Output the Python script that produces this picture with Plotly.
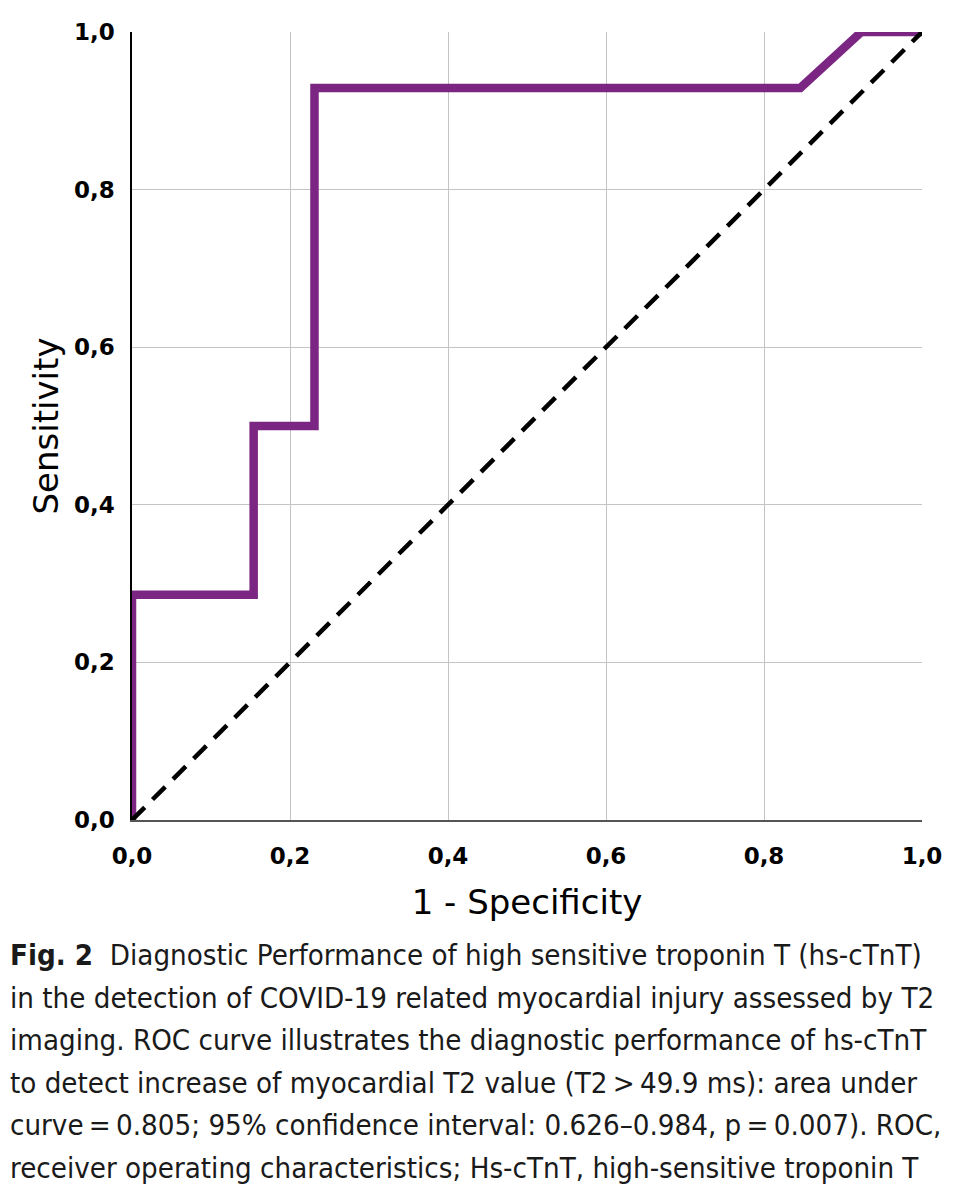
import plotly.graph_objects as go

# ROC data
fpr = [0.0, 0.0, 0.154, 0.154, 0.231, 0.231, 0.846, 0.923, 1.0]
tpr = [0.0, 0.286, 0.286, 0.5, 0.5, 0.929, 0.929, 1.0, 1.0]
ref_x = [0.0, 1.0]
ref_y = [0.0, 1.0]
tick_vals = [0.0, 0.2, 0.4, 0.6, 0.8, 1.0]
tick_text = ["0,0", "0,2", "0,4", "0,6", "0,8", "1,0"]
x_title = "1 - Specificity"
y_title = "Sensitivity"
caption_lines = [
    "<b>Fig. 2</b>&nbsp; Diagnostic Performance of high sensitive troponin T (hs-cTnT)",
    "in the detection of COVID-19 related myocardial injury assessed by T2",
    "imaging. ROC curve illustrates the diagnostic performance of hs-cTnT",
    "to detect increase of myocardial T2 value (T2\u2009>\u200949.9 ms): area under",
    "curve\u2009=\u20090.805; 95% confidence interval: 0.626–0.984, p\u2009=\u20090.007). ROC,",
    "receiver operating characteristics; Hs-cTnT, high-sensitive troponin T",
]

# page body has an 8px margin, so figure coords = screen coords - 8
OFF = 8
W, H = 952, 1184
L, T = 132 - OFF, 32 - OFF
R = W - (922 - OFF)
B = H - (820 - OFF)
plot_w = W - L - R
plot_h = H - T - B

fig = go.Figure()
fig.add_trace(go.Scatter(x=fpr, y=tpr, mode="lines",
                         line=dict(color="#7B2682", width=8.5),
                         hoverinfo="skip", cliponaxis=False))
fig.add_trace(go.Scatter(x=ref_x, y=ref_y, mode="lines",
                         line=dict(color="black", width=4.5, dash="18px,11px"),
                         hoverinfo="skip", cliponaxis=False))

cap_font = dict(family="DejaVu Sans Condensed, Liberation Sans Narrow, Noto Sans", size=29.2, color="#1a1a1a")
first_y = 955 - OFF
spacing = 42.5
annotations = []
for i, line in enumerate(caption_lines):
    py = first_y + i * spacing
    annotations.append(dict(
        text=line, xref="paper", yref="paper",
        x=(8 - OFF - L) / plot_w, y=(H - B - py) / plot_h,
        xanchor="left", yanchor="middle", showarrow=False,
        font=cap_font, align="left"))

tick_font = dict(family="DejaVu Sans", size=23, color="black", weight="bold")
title_font = dict(family="DejaVu Sans", size=34, color="black")

fig.update_layout(
    width=W, height=H,
    margin=dict(l=L, r=R, t=T, b=B),
    paper_bgcolor="white", plot_bgcolor="white",
    showlegend=False,
    annotations=annotations,
)
fig.update_xaxes(
    range=[0, 1], tickvals=tick_vals, ticktext=tick_text,
    showgrid=True, gridcolor="#c4c4c4", gridwidth=1.4,
    zeroline=False, showline=True, linecolor="#555", linewidth=2,
    ticks="", ticklabelstandoff=14, tickfont=tick_font,
    title=dict(text=x_title, standoff=23, font=title_font),
)
fig.update_yaxes(
    range=[0, 1], tickvals=tick_vals, ticktext=tick_text,
    showgrid=True, gridcolor="#c4c4c4", gridwidth=1.4,
    zeroline=False, showline=True, linecolor="black", linewidth=1.5,
    ticks="", ticklabelstandoff=11, tickfont=tick_font,
    title=dict(text=y_title, standoff=5, font=title_font),
)

fig.write_html("out.html")
